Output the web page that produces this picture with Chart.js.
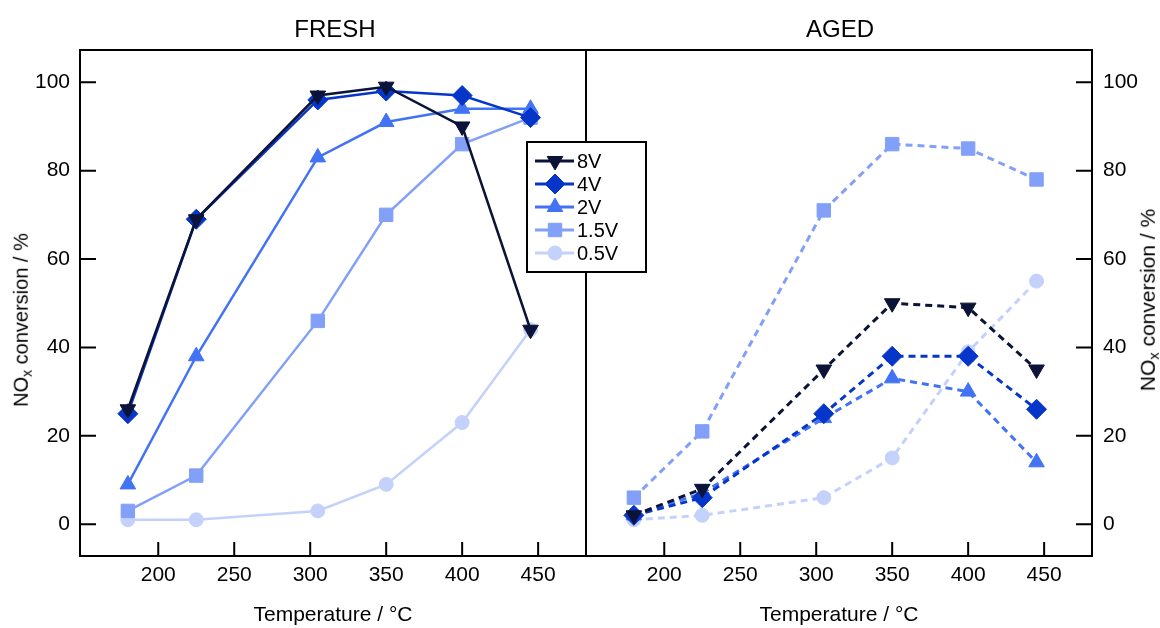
<!DOCTYPE html>
<html>
<head>
<meta charset="utf-8">
<script src="https://cdn.jsdelivr.net/npm/chart.js@4"></script>
<style>
body{margin:0;background:#fff;font-family:"Liberation Sans",Arial,sans-serif}
#wrap{position:relative;width:1160px;height:628px;overflow:hidden}
canvas{position:absolute;left:0;top:0}
.t{position:absolute;color:#000;white-space:nowrap;line-height:1}
.ytitle{font-size:20px;transform:translate(-50%,-50%) rotate(-90deg)}
.ytitle sub{font-size:0.7em;vertical-align:-0.25em}
</style>
</head>
<body>
<div id="wrap">
  <canvas id="fresh" width="1160" height="628"></canvas>
  <canvas id="aged" width="1160" height="628"></canvas>
  <div class="t" style="left:335px;top:17px;font-size:24px;transform:translateX(-50%)">FRESH</div>
  <div class="t" style="left:840px;top:17px;font-size:24px;transform:translateX(-50%)">AGED</div>
  <div class="t ytitle" style="left:22px;top:320px">NO<sub>x</sub> conversion / %</div>
  <div class="t ytitle" style="left:1149px;top:300px;font-size:21px">NO<sub>x</sub> conversion / %</div>
</div>
<script>
// temperatures (deg C) and series
const temps = [180, 225, 305, 350, 400, 445];
const seriesNames = ['8V', '4V', '2V', '1.5V', '0.5V'];

const fresh8  = [26, 69, 97, 99, 90, 44];
const fresh4  = [25, 69, 96, 98, 97, 92];
const fresh2  = [9, 38, 83, 91, 94, 94];
const fresh15 = [3, 11, 46, 70, 86, 92];
const fresh05 = [1, 1, 3, 9, 23, 44];

const aged8  = [2, 8, 35, 50, 49, 35];
const aged4  = [2, 6, 25, 38, 38, 26];
const aged2  = [2, 7, 24, 33, 30, 14];
const aged15 = [6, 21, 71, 86, 85, 78];
const aged05 = [1, 2, 6, 15, 39, 55];

const xTicks = [200, 250, 300, 350, 400, 450];
const yTicks = [0, 20, 40, 60, 80, 100];

// looks
const colors  = ['#0b1438', '#0636c9', '#4373f5', '#83a0f8', '#c4d2fb'];
const shapes  = ['triangle', 'rectRot', 'triangle', 'rect', 'circle'];
const rots    = [180, 0, 0, 0, 0];
const radii   = [9, 10, 9, 9.5, 7];

function makeSets(lists, dash){
  return lists.map((vals, i) => ({
    label: seriesNames[i],
    data: temps.map((t, j) => ({x: t, y: vals[j]})),
    borderColor: colors[i],
    backgroundColor: colors[i],
    borderWidth: dash ? 3 : 2.5,
    borderDash: dash ? [7, 5] : [],
    pointStyle: shapes[i],
    pointRotation: rots[i],
    pointRadius: radii[i],
    pointBorderWidth: 1,
    pointBorderColor: colors[i],
    pointBackgroundColor: colors[i],
    tension: 0
  }));
}

// frame + inward tick marks
const frame = {
  id: 'frame',
  beforeDatasetsDraw(chart){
    const {ctx, chartArea: a, scales: {x, y}} = chart;
    ctx.save();
    ctx.strokeStyle = '#000';
    ctx.lineWidth = 2;
    ctx.strokeRect(a.left, a.top, a.right - a.left, a.bottom - a.top);
    ctx.beginPath();
    x.ticks.forEach(t => {
      const px = x.getPixelForValue(t.value);
      ctx.moveTo(px, a.bottom); ctx.lineTo(px, a.bottom - 14);
    });
    const right = y.position === 'right';
    const yl = right ? a.right : a.left;
    y.ticks.forEach(t => {
      const py = y.getPixelForValue(t.value);
      ctx.moveTo(yl, py); ctx.lineTo(yl + (right ? -16 : 16), py);
    });
    ctx.stroke();
    ctx.restore();
  }
};

function mark(ctx, i, x, y){
  const opts = {pointStyle: shapes[i], rotation: rots[i], radius: radii[i], borderWidth: 1};
  ctx.fillStyle = colors[i];
  ctx.strokeStyle = colors[i];
  ctx.lineWidth = 1;
  ctx.setLineDash([]);
  Chart.helpers.drawPoint(ctx, opts, x, y);
}

// legend box sits over the divider, drawn on the top canvas
const legendBox = {
  id: 'legendBox',
  afterDraw(chart){
    const ctx = chart.ctx;
    ctx.save();
    ctx.fillStyle = '#fff';
    ctx.fillRect(527, 142, 119, 130);
    ctx.strokeStyle = '#000';
    ctx.lineWidth = 2;
    ctx.strokeRect(527, 142, 119, 130);
    ctx.font = '20px "Liberation Sans", Arial, sans-serif';
    ctx.textBaseline = 'middle';
    seriesNames.forEach((n, i) => {
      const yy = 161 + i * 23;
      ctx.strokeStyle = colors[i];
      ctx.lineWidth = 3;
      ctx.beginPath(); ctx.moveTo(535, yy); ctx.lineTo(574, yy); ctx.stroke();
      mark(ctx, i, 555, yy);
      ctx.fillStyle = '#000';
      ctx.fillText(n, 577, yy + 1);
    });
    ctx.restore();
  }
};

function makeOpts(side){
  const left = side === 'left';
  return {
    responsive: false,
    animation: false,
    devicePixelRatio: 1,
    layout: {padding: left ? {left: 0, right: 1160 - 586, top: 50, bottom: 0}
                           : {left: 586, right: 0, top: 50, bottom: 0}},
    plugins: {legend: {display: false}, tooltip: {enabled: false}},
    scales: {
      x: {
        type: 'linear', min: 148.5, max: 481.5,
        afterBuildTicks: s => { s.ticks = xTicks.map(v => ({value: v})); },
        afterFit: s => { s.height = 72; },
        grid: {display: false, drawTicks: false},
        border: {display: false},
        ticks: {color: '#000', font: {size: 21}, padding: 7, maxRotation: 0, autoSkip: false},
        title: {display: true, text: 'Temperature / °C', color: '#000', font: {size: 21, lineHeight: 1.2}, padding: 0}
      },
      y: {
        position: side, min: -7.2, max: 107.3,
        afterBuildTicks: s => { s.ticks = yTicks.map(v => ({value: v})); },
        afterFit: s => { s.width = left ? 80 : 68; },
        grid: {display: false, drawTicks: false},
        border: {display: false},
        ticks: {color: '#000', font: {size: 21}, padding: left ? 10 : 11}
      }
    }
  };
}

Chart.defaults.font.family = '"Liberation Sans", Arial, sans-serif';

new Chart(document.getElementById('fresh'), {
  type: 'line',
  data: {datasets: makeSets([fresh8, fresh4, fresh2, fresh15, fresh05], false)},
  options: makeOpts('left'),
  plugins: [frame]
});

new Chart(document.getElementById('aged'), {
  type: 'line',
  data: {datasets: makeSets([aged8, aged4, aged2, aged15, aged05], true)},
  options: makeOpts('right'),
  plugins: [frame, legendBox]
});
</script>
</body>
</html>
